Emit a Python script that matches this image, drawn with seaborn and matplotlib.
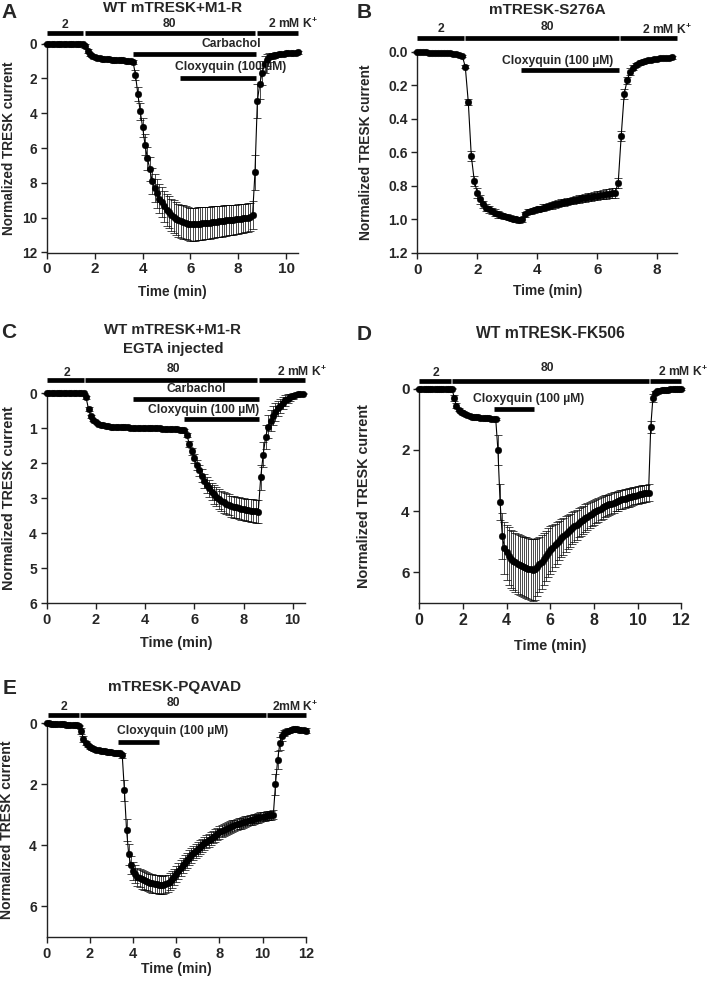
import numpy as np
import matplotlib
matplotlib.use("Agg")
from matplotlib import pyplot as plt
from matplotlib.transforms import blended_transform_factory
import seaborn as sns

# sampling interval of the recordings (min)
SAMPLE_MIN = 0.1

# ---- A: WT mTRESK+M1-R ----
a_mean = [0, 0, 0, 0, 0, 0, 0, 0, 0, 0, 0, 0, 0, 0, 0, 0,
          0.15, 0.45, 0.62, 0.72, 0.78, 0.82, 0.85, 0.87, 0.89, 0.9, 0.91, 0.92, 0.93, 0.94, 0.95,
          0.96, 0.97, 0.98, 0.99, 1.0, 1.05,
          1.8, 2.9, 3.9, 4.8, 5.8, 6.6, 7.2, 7.9, 8.3, 8.6, 8.9, 9.1, 9.35, 9.55, 9.7, 9.85, 9.95,
          10.05, 10.15, 10.2, 10.25, 10.3, 10.35, 10.38, 10.38, 10.37, 10.36, 10.35, 10.33, 10.31,
          10.3, 10.28, 10.26, 10.25, 10.23, 10.21, 10.2, 10.18, 10.16, 10.15, 10.13, 10.12, 10.1,
          10.08, 10.06, 10.04, 10.02, 10.0, 9.95, 9.85,
          7.4, 3.3, 2.3, 1.7, 1.2, 0.95, 0.8, 0.72, 0.67, 0.64, 0.62, 0.6, 0.58, 0.56, 0.55, 0.54,
          0.53, 0.52, 0.51]
a_err = [0.02] * 16 + \
        [0.1, 0.12, 0.08, 0.06, 0.05, 0.05, 0.05, 0.05, 0.05, 0.05, 0.05, 0.05, 0.05, 0.05, 0.05,
         0.05, 0.05, 0.05, 0.06, 0.08, 0.1,
         0.3, 0.4, 0.5, 0.55, 0.6, 0.65, 0.7, 0.75, 0.8, 0.82, 0.85, 0.87, 0.89, 0.9, 0.92, 0.93,
         0.94, 0.95, 0.95, 0.95, 0.95, 0.95, 0.95, 0.95, 0.95, 0.95, 0.95, 0.94, 0.94, 0.93, 0.93,
         0.92, 0.92, 0.91, 0.9, 0.9, 0.89, 0.88, 0.88, 0.87, 0.86, 0.86, 0.85, 0.84, 0.84, 0.83,
         0.82, 0.82, 0.81, 0.8,
         1.0, 1.0, 0.9, 0.7, 0.5, 0.35, 0.25, 0.18, 0.14, 0.12, 0.1, 0.1, 0.1, 0.09, 0.09, 0.09,
         0.08, 0.08, 0.08]

# ---- B: mTRESK-S276A ----
b_mean = [0.0, 0.0, 0.0, 0.0, 0.005, 0.005, 0.005, 0.005, 0.01, 0.01, 0.01, 0.01, 0.015, 0.015,
          0.02, 0.025,
          0.09, 0.30, 0.62, 0.77, 0.84, 0.88, 0.91, 0.93, 0.94, 0.95, 0.96, 0.97, 0.975, 0.98,
          0.985, 0.99, 0.995, 1.0, 1.005, 1.0, 0.97, 0.955, 0.95, 0.945, 0.94, 0.935, 0.93, 0.925,
          0.92, 0.915, 0.91, 0.905, 0.9, 0.897, 0.893, 0.89, 0.886, 0.882, 0.878, 0.875, 0.872,
          0.868, 0.865, 0.862, 0.858, 0.855, 0.852, 0.849, 0.846, 0.843, 0.84,
          0.78, 0.50, 0.25, 0.17, 0.12, 0.095, 0.08, 0.07, 0.062, 0.056, 0.052, 0.048, 0.045,
          0.042, 0.04, 0.038, 0.036, 0.035, 0.034]
b_err = [0.005] * 16 + \
        [0.01, 0.02, 0.03, 0.03, 0.03, 0.025, 0.02, 0.02, 0.02, 0.02, 0.02, 0.02, 0.015, 0.015,
         0.015, 0.015, 0.015, 0.015, 0.015, 0.015, 0.015, 0.015, 0.015, 0.015, 0.015, 0.015, 0.02,
         0.02, 0.02, 0.02, 0.02, 0.02, 0.02, 0.02, 0.02, 0.02, 0.022, 0.022, 0.022, 0.022, 0.024,
         0.024, 0.024, 0.024, 0.026, 0.026, 0.026, 0.028, 0.028, 0.03, 0.03,
         0.03, 0.03, 0.03, 0.02, 0.02, 0.015, 0.01, 0.01, 0.01, 0.01, 0.01, 0.01, 0.01, 0.01,
         0.01, 0.01, 0.01, 0.01, 0.01]

# ---- C: WT mTRESK+M1-R, EGTA injected ----
c_mean = [0] * 16 + \
         [0.12, 0.45, 0.66, 0.76, 0.82, 0.87, 0.9, 0.92, 0.935, 0.945, 0.95, 0.955, 0.96, 0.965,
          0.97, 0.972, 0.975, 0.977, 0.98, 0.982, 0.985, 0.987, 0.99, 0.992, 0.995, 0.997, 1.0,
          1.0, 1.0, 1.0, 1.005, 1.01, 1.01, 1.015, 1.02, 1.02, 1.025, 1.03, 1.035, 1.04, 1.06,
          1.2, 1.45, 1.66, 1.86, 2.05, 2.2, 2.35, 2.5, 2.62, 2.72, 2.81, 2.89, 2.96, 3.02, 3.07,
          3.12, 3.16, 3.19, 3.22, 3.24, 3.26, 3.28, 3.3, 3.31, 3.33, 3.34, 3.35, 3.36, 3.37, 3.38,
          2.4, 1.75, 1.25, 0.95, 0.78, 0.64, 0.53, 0.43, 0.35, 0.27, 0.2, 0.15, 0.11, 0.08, 0.05,
          0.03, 0.02, 0.01]
c_err = [0.01] * 16 + \
        [0.05, 0.06, 0.05, 0.03, 0.03, 0.02, 0.02, 0.02, 0.02, 0.02, 0.02, 0.02, 0.02, 0.02,
         0.02, 0.02, 0.02, 0.02, 0.02, 0.02, 0.02, 0.02, 0.02, 0.02, 0.02, 0.02, 0.02, 0.02,
         0.02, 0.02, 0.02, 0.02, 0.02, 0.02, 0.02, 0.02, 0.02, 0.02, 0.02, 0.02, 0.03,
         0.06, 0.08, 0.1, 0.12, 0.14, 0.16, 0.18, 0.2, 0.22, 0.24, 0.25, 0.26, 0.27, 0.28, 0.29,
         0.29, 0.3, 0.3, 0.3, 0.31, 0.31, 0.31, 0.32, 0.32, 0.32, 0.32, 0.33, 0.33, 0.33, 0.33,
         0.35, 0.35, 0.35, 0.33, 0.3, 0.27, 0.25, 0.22, 0.2, 0.17, 0.15, 0.12, 0.1, 0.08, 0.06,
         0.04, 0.03, 0.02]

# ---- D: WT mTRESK-FK506 ----
d_mean = [0] * 16 + \
         [0.3, 0.56, 0.68, 0.75, 0.8, 0.84, 0.87, 0.89, 0.91, 0.92, 0.93, 0.94, 0.95, 0.955,
          0.96, 0.965, 0.97, 0.975, 0.98, 0.99,
          2.0, 3.7, 4.8, 5.2, 5.35, 5.47, 5.56, 5.62, 5.67, 5.71, 5.75, 5.79, 5.82, 5.85, 5.88,
          5.9, 5.92, 5.9, 5.82, 5.74, 5.66, 5.56, 5.46, 5.36, 5.27, 5.2, 5.12, 5.04, 4.96, 4.89,
          4.82, 4.75, 4.68, 4.62, 4.56, 4.5, 4.44, 4.38, 4.33, 4.28, 4.23, 4.18, 4.13, 4.08, 4.04,
          4.0, 3.96, 3.92, 3.88, 3.84, 3.81, 3.78, 3.75, 3.72, 3.69, 3.66, 3.63, 3.61, 3.59, 3.57,
          3.55, 3.53, 3.51, 3.49, 3.47, 3.45, 3.44, 3.42, 3.41, 3.4,
          1.25, 0.3, 0.15, 0.09, 0.06, 0.05, 0.04, 0.03, 0.03, 0.02, 0.02, 0.02, 0.01, 0.01, 0.01]
d_err = [0.02] * 16 + \
        [0.1, 0.08, 0.05, 0.04, 0.03, 0.03, 0.03, 0.03, 0.03, 0.03, 0.03, 0.03, 0.03, 0.03,
         0.03, 0.03, 0.03, 0.03, 0.03, 0.03,
         0.5, 0.6, 0.75, 0.85, 0.9, 0.95, 0.95, 0.97, 0.97, 0.98, 0.98, 0.99, 0.99, 1.0, 1.0,
         1.0, 1.0, 1.0, 0.95, 0.9, 0.88, 0.85, 0.82, 0.8, 0.77, 0.74, 0.71, 0.68, 0.65, 0.62,
         0.6, 0.58, 0.56, 0.54, 0.52, 0.5, 0.49, 0.48, 0.47, 0.46, 0.45, 0.44, 0.43, 0.42, 0.41,
         0.4, 0.39, 0.38, 0.37, 0.36, 0.35, 0.34, 0.33, 0.33, 0.32, 0.32, 0.31, 0.31, 0.3, 0.3,
         0.3, 0.29, 0.29, 0.29, 0.28, 0.28, 0.28, 0.28, 0.28, 0.28,
         0.2, 0.12, 0.06, 0.03, 0.02, 0.02, 0.02, 0.02, 0.02, 0.02, 0.02, 0.02, 0.02, 0.02, 0.02]

# ---- E: mTRESK-PQAVAD ----
e_mean = [0.0, 0.0, 0.01, 0.01, 0.02, 0.02, 0.03, 0.03, 0.03, 0.04, 0.04, 0.04, 0.05, 0.05,
          0.06, 0.08,
          0.25, 0.5, 0.64, 0.72, 0.78, 0.82, 0.85, 0.87, 0.89, 0.9, 0.91, 0.92, 0.93, 0.94, 0.95,
          0.96, 0.965, 0.97, 0.98, 1.05,
          2.2, 3.5, 4.3, 4.65, 4.85, 4.95, 5.03, 5.08, 5.12, 5.15, 5.18, 5.21, 5.23, 5.25, 5.27,
          5.28, 5.29, 5.3, 5.3, 5.28, 5.24, 5.19, 5.12, 5.04, 4.95, 4.85, 4.75, 4.66, 4.57, 4.49,
          4.41, 4.33, 4.26, 4.19, 4.13, 4.06, 4.0, 3.94, 3.88, 3.83, 3.78, 3.73, 3.68, 3.63, 3.58,
          3.54, 3.5, 3.46, 3.43, 3.4, 3.37, 3.34, 3.31, 3.29, 3.27, 3.25, 3.22, 3.2, 3.18, 3.16,
          3.14, 3.12, 3.1, 3.08, 3.06, 3.05, 3.03, 3.02, 3.01, 3.0,
          2.0, 1.2, 0.66, 0.42, 0.32, 0.27, 0.24, 0.22, 0.2, 0.19, 0.2, 0.21, 0.22, 0.23, 0.24]
e_err = [0.02] * 16 + \
        [0.1, 0.1, 0.06, 0.05, 0.05, 0.05, 0.05, 0.05, 0.05, 0.05, 0.05, 0.05, 0.05, 0.05,
         0.05, 0.05, 0.05, 0.05, 0.05, 0.08,
         0.35, 0.35, 0.35, 0.3, 0.3, 0.3, 0.3, 0.3, 0.3, 0.3, 0.3, 0.3, 0.3, 0.3, 0.3, 0.3,
         0.3, 0.3, 0.3, 0.3, 0.28, 0.28, 0.27, 0.27, 0.26, 0.26, 0.26, 0.25, 0.25, 0.25, 0.24,
         0.24, 0.23, 0.23, 0.23, 0.22, 0.22, 0.22, 0.21, 0.21, 0.21, 0.2, 0.2, 0.2, 0.2, 0.2,
         0.2, 0.19, 0.19, 0.19, 0.19, 0.18, 0.18, 0.18, 0.18, 0.17, 0.17, 0.17, 0.17, 0.16, 0.16,
         0.16, 0.16, 0.16, 0.15, 0.15, 0.15, 0.15, 0.15, 0.15,
         0.35, 0.3, 0.2, 0.15, 0.1, 0.07, 0.07, 0.07, 0.07, 0.07, 0.07, 0.07, 0.07, 0.07, 0.07]

W, H = 709, 984

sns.set_style("ticks")
plt.rcParams['font.family'] = ['Liberation Sans', 'DejaVu Sans']
plt.rcParams['font.weight'] = 'bold'
plt.rcParams['axes.labelweight'] = 'bold'
plt.rcParams['mathtext.fontset'] = 'custom'
plt.rcParams['mathtext.rm'] = 'Liberation Sans:bold'
plt.rcParams['mathtext.bf'] = 'Liberation Sans:bold'

fig = plt.figure(figsize=(W / 100, H / 100), dpi=100)


def fy(ypx):
    return 1 - ypx / H


def make_ax(l, r, t, b):
    return fig.add_axes([l / W, 1 - b / H, (r - l) / W, (b - t) / H])


def trace(ax, mean, err):
    t = np.round(np.arange(len(mean)) * SAMPLE_MIN, 2)
    ax.errorbar(t, mean, yerr=err, fmt='none', ecolor='black', elinewidth=0.5,
                capsize=2.6, capthick=0.5, clip_on=False, zorder=2)
    sns.lineplot(x=t, y=mean, ax=ax, color='black', lw=0.8, marker='o', markersize=4.8,
                 markeredgecolor='black', markeredgewidth=0.3, clip_on=False, zorder=3)


def bar(ax, x0, x1, ypx, label=None, lx=None, lypx=None, size=8.7):
    tr = blended_transform_factory(ax.transData, fig.transFigure)
    ax.plot([x0, x1], [fy(ypx), fy(ypx)], transform=tr, color='black', lw=3.4,
            solid_capstyle='butt', clip_on=False)
    if label is not None:
        ax.text(lx, fy(lypx), label, transform=tr, ha='center', va='center',
                fontsize=size, fontweight='bold')


def style(ax, xlim, xticks, ylim, yticks, ylab_x, xlab_y, xsize, ysize, labsize, yfmt=None):
    ax.set_xlim(*xlim)
    ax.set_xticks(xticks)
    ax.set_ylim(ylim[1], ylim[0])
    ax.set_yticks(yticks)
    if yfmt:
        ax.set_yticklabels([yfmt % v for v in yticks])
    sns.despine(ax=ax)
    for s in ['left', 'bottom']:
        ax.spines[s].set_linewidth(1.0)
        ax.spines[s].set_color('#222222')
    ax.tick_params(width=1, length=4, direction='out', pad=3, color='#222222')
    ax.tick_params(axis='x', labelsize=xsize)
    ax.tick_params(axis='y', labelsize=ysize)
    for lab in ax.get_xticklabels() + ax.get_yticklabels():
        lab.set_fontweight('bold')
    ax.set_xlabel('Time (min)', fontsize=labsize)
    ax.set_ylabel('Normalized TRESK current', fontsize=labsize)
    ax.yaxis.set_label_coords(ylab_x, 0.5)
    ax.xaxis.set_label_coords(0.5, xlab_y)


K = r'2 mM K$^{\mathbf{+}}$'
CLOX = 'Cloxyquin (100 \u00b5M)'

# A
ax = make_ax(47, 298, 43.5, 252.5)
trace(ax, a_mean, a_err)
style(ax, (0, 10.5), [0, 2, 4, 6, 8, 10], (0, 12), [0, 2, 4, 6, 8, 10, 12], -0.124, -0.155,
      11, 9.8, 9.8)
bar(ax, 0, 1.52, 33.3, '2', 0.77, 25)
bar(ax, 1.6, 8.7, 33.3, '80', 5.1, 24)
bar(ax, 8.77, 10.5, 33.3, K, 10.3, 24)
bar(ax, 3.6, 8.74, 54, 'Carbachol', 7.7, 44.3)
bar(ax, 5.57, 8.74, 77.7, CLOX, 7.68, 66.7)
fig.text(173 / W, fy(8), 'WT mTRESK+M1-R', ha='center', va='center', fontsize=11, fontweight='bold')
fig.text(9 / W, fy(13), 'A', ha='center', va='center', fontsize=15, fontweight='bold')

# B
ax = make_ax(417.3, 677, 51.7, 253)
trace(ax, b_mean, b_err)
style(ax, (0, 8.66), [0, 2, 4, 6, 8], (0, 1.2), [0, 0.2, 0.4, 0.6, 0.8, 1.0, 1.2], -0.169, -0.152,
      11, 10, 9.9, yfmt='%.1f')
bar(ax, 0, 1.55, 37.7, '2', 0.8, 29.3)
bar(ax, 1.6, 6.72, 37.7, '80', 4.33, 27)
bar(ax, 6.77, 8.66, 37.7, K, 8.33, 29.3)
bar(ax, 3.45, 6.73, 70, CLOX, 4.69, 61)
fig.text(547 / W, fy(10), 'mTRESK-S276A', ha='center', va='center', fontsize=11, fontweight='bold')
fig.text(364 / W, fy(13), 'B', ha='center', va='center', fontsize=15, fontweight='bold')

# C
ax = make_ax(46.7, 305, 393.3, 603.3)
trace(ax, c_mean, c_err)
style(ax, (0, 10.5), [0, 2, 4, 6, 8, 10], (0, 6), [0, 1, 2, 3, 4, 5, 6], -0.117, -0.158,
      10.5, 10, 10.4)
bar(ax, 0, 1.52, 380, '2', 0.81, 373)
bar(ax, 1.56, 8.55, 380, '80', 5.16, 369)
bar(ax, 8.62, 10.48, 380, K, 10.38, 372)
bar(ax, 3.5, 8.65, 399, 'Carbachol', 6.08, 389)
bar(ax, 5.6, 8.65, 419.3, CLOX, 6.38, 410)
fig.text(173 / W, fy(330), 'WT mTRESK+M1-R', ha='center', va='center', fontsize=10.8, fontweight='bold')
fig.text(173 / W, fy(349), 'EGTA injected', ha='center', va='center', fontsize=10.8, fontweight='bold')
fig.text(9 / W, fy(333), 'C', ha='center', va='center', fontsize=15, fontweight='bold')

# D
ax = make_ax(419.3, 681.3, 388.7, 603)
trace(ax, d_mean, d_err)
style(ax, (0, 12), [0, 2, 4, 6, 8, 10, 12], (0, 7), [0, 2, 4, 6], -0.186, -0.166,
      11.5, 11, 10.4)
bar(ax, 0, 1.47, 380.7, '2', 0.75, 373)
bar(ax, 1.5, 10.5, 380.7, '80', 5.87, 368)
bar(ax, 10.55, 12.0, 380.7, K, 12.06, 372)
bar(ax, 3.4, 5.26, 409.3, CLOX, 5.03, 399.3)
fig.text(550 / W, fy(333.3), 'WT mTRESK-FK506', ha='center', va='center', fontsize=11.3, fontweight='bold')
fig.text(364 / W, fy(335), 'D', ha='center', va='center', fontsize=15, fontweight='bold')

# E
ax = make_ax(46.7, 305.7, 723.3, 936.8)
trace(ax, e_mean, e_err)
style(ax, (0, 12), [0, 2, 4, 6, 8, 10, 12], (0, 7), [0, 2, 4, 6], -0.126, -0.117,
      10.5, 10, 10.1)
bar(ax, 0.07, 1.5, 715, '2', 0.82, 706.7)
bar(ax, 1.55, 10.17, 715, '80', 5.86, 702.7)
bar(ax, 10.2, 12.03, 715, r'2mM K$^{\mathbf{+}}$', 11.5, 706.7)
bar(ax, 3.31, 5.21, 742.3, CLOX, 5.83, 730.7)
fig.text(175 / W, fy(686.7), 'mTRESK-PQAVAD', ha='center', va='center', fontsize=11, fontweight='bold')
fig.text(10 / W, fy(688), 'E', ha='center', va='center', fontsize=15, fontweight='bold')

fig.savefig('out.png', dpi=100)
